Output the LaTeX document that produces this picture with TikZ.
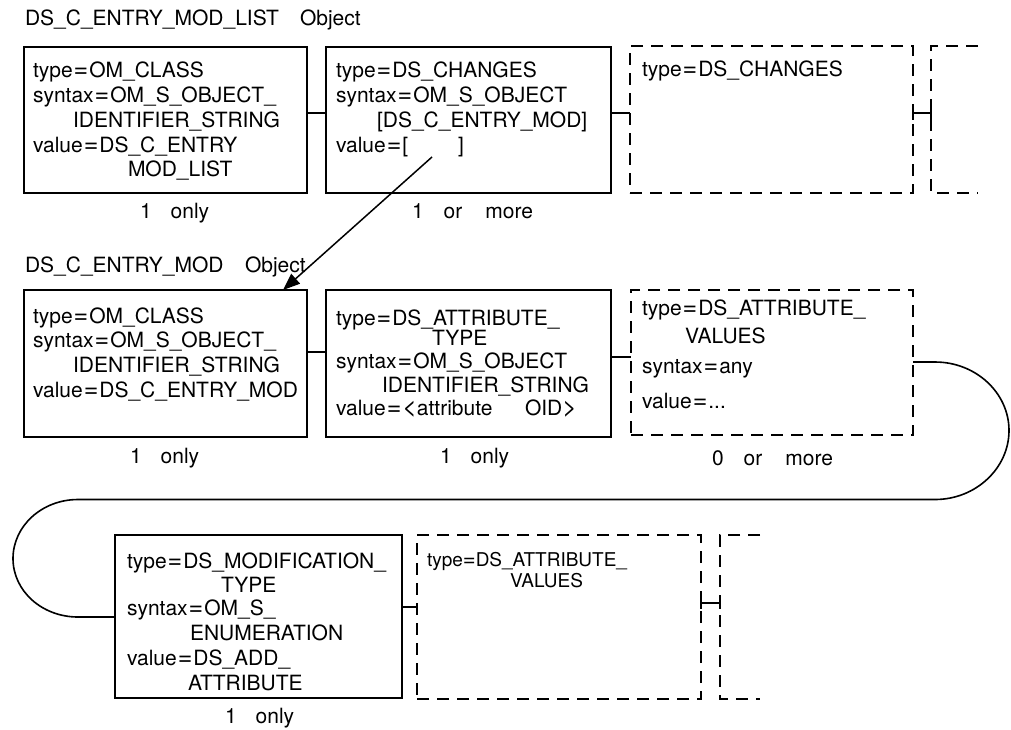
\documentclass[tikz,border=0pt]{standalone}
\usepackage{fontspec}
\setmainfont{TeX Gyre Heros}
\usetikzlibrary{arrows.meta}
\newcommand\eqsign{\kern1pt{\fontsize{25}{24}\selectfont=}\kern1pt}
\newcommand\ltsign{{\fontsize{25}{24}\selectfont<}}
\newcommand\gtsign{{\fontsize{25}{24}\selectfont>}}
\begin{document}
\begin{tikzpicture}[x=1pt,y=-1pt,
 t/.style={anchor=base west, inner sep=0pt, outer sep=0pt, font=\fontsize{21}{24}\selectfont},
 ts/.style={anchor=base west, inner sep=0pt, outer sep=0pt, font=\fontsize{19}{22}\selectfont},
 solidbox/.style={draw, line width=1.8pt, inner sep=0pt, outer sep=0pt},
 dashbox/.style={draw, line width=1.8pt, dash pattern=on 12pt off 8pt, inner sep=0pt, outer sep=0pt},
 dashline/.style={line width=1.8pt, dash pattern=on 12pt off 8pt},
 conn/.style={line width=1.6pt},
 arr/.style={line width=1.5pt, -{Triangle[length=17pt,width=13pt]}}]
\useasboundingbox (0,0) rectangle (1011,729);

% ---------- Row 1 ----------
\node[t] (title1) at (25,25) {DS\_C\_ENTRY\_MOD\_LIST};
\node[t] (title1o) at (300,25) {Object};

\node[solidbox, minimum width=283pt, minimum height=146pt] (A) at (165.5,120) {};
\node[solidbox, minimum width=285pt, minimum height=146pt] (B) at (468.5,120) {};
\node[dashbox, minimum width=283pt, minimum height=147pt] (C) at (771.5,119.5) {};
\coordinate (Cx) at (931,113);
\draw[dashline] (978,46) -- (931,46) -- (931,193) -- (978,193);

\node[t] (a1) at (33,77) {type\eqsign OM\_CLASS};
\node[t] (a2) at (33,102) {syntax\eqsign OM\_S\_OBJECT\_};
\node[t] (a3) at (73,127) {IDENTIFIER\_STRING};
\node[t] (a4) at (33,152) {value\eqsign DS\_C\_ENTRY};
\node[t] (a5) at (128,176) {MOD\_LIST};
\node[t] (aq) at (140,218) {1\hspace{19pt}only};

\node[t] (b1) at (336,77) {type\eqsign DS\_CHANGES};
\node[t] (b2) at (336,102) {syntax\eqsign OM\_S\_OBJECT};
\node[t] (b3) at (377,127) {[DS\_C\_ENTRY\_MOD]};
\node[t] (b4) at (336,152) {value\eqsign [};
\node[t] (b5) at (458,152) {]};
\node[t] (bq) at (412,218) {1\hspace{20pt}or\hspace{23pt}more};

\node[t] (c1) at (642,76) {type\eqsign DS\_CHANGES};

\draw[conn] (A.east |- 0,113) -- (B.west |- 0,113);
\draw[conn] (B.east |- 0,113) -- (C.west |- 0,113);
\draw[conn] (C.east |- 0,113) -- (Cx);
\draw[conn] (913,106) -- (913,120);
\draw[conn] (931,106) -- (931,120);

% ---------- Row 2 ----------
\node[t] (title2) at (25,272) {DS\_C\_ENTRY\_MOD};
\node[t] (title2o) at (245,272) {Object};

\node[solidbox, minimum width=283pt, minimum height=147pt] (D) at (165.5,363.5) {};
\node[solidbox, minimum width=285pt, minimum height=147pt] (E) at (468.5,363.5) {};
\node[dashbox, minimum width=282pt, minimum height=145pt] (F) at (772,362.5) {};

\node[t] (d1) at (33,323) {type\eqsign OM\_CLASS};
\node[t] (d2) at (33,347) {syntax\eqsign OM\_S\_OBJECT\_};
\node[t] (d3) at (73,372) {IDENTIFIER\_STRING};
\node[t] (d4) at (33,397) {value\eqsign DS\_C\_ENTRY\_MOD};
\node[t] (dq) at (130,463) {1\hspace{19pt}only};

\node[t] (e1) at (336,325) {type\eqsign DS\_ATTRIBUTE\_};
\node[t] (e2) at (432,345) {TYPE};
\node[t] (e3) at (336,368) {syntax\eqsign OM\_S\_OBJECT};
\node[t] (e4) at (382,392) {IDENTIFIER\_STRING};
\node[t] (e5) at (336,415) {value\eqsign\ltsign attribute};
\node[t] (e6) at (525,415) {OID\gtsign};
\node[t] (eq) at (440,463) {1\hspace{19pt}only};

\node[t] (f1) at (642,315) {type\eqsign DS\_ATTRIBUTE\_};
\node[t] (f2) at (685,343) {VALUES};
\node[t] (f3) at (642,373) {syntax\eqsign any};
\node[t] (f4) at (642,408) {value\eqsign ...};
\node[t] (fq) at (712,465) {0\hspace{20pt}or\hspace{23pt}more};

\draw[conn] (D.east |- 0,352) -- (E.west |- 0,352);
\draw[conn] (E.east |- 0,357) -- (F.west |- 0,357);

% arrow from B's value to D
\coordinate (Bv) at (432,157);
\coordinate (Dt) at (283,290);
\draw[arr] (Bv) -- (Dt);

% ---------- Row 3 ----------
\node[solidbox, minimum width=287pt, minimum height=163pt] (G) at (258.5,616.5) {};
\node[dashbox, minimum width=284pt, minimum height=164pt] (H) at (559,617) {};
\coordinate (Ix) at (720,603);
\draw[dashline] (760,535) -- (720,535) -- (720,699) -- (760,699);

\node[t] (g1) at (127,568) {type\eqsign DS\_MODIFICATION\_};
\node[t] (g2) at (221,592) {TYPE};
\node[t] (g3) at (127,615) {syntax\eqsign OM\_S\_};
\node[t] (g4) at (190,640) {ENUMERATION};
\node[t] (g5) at (127,665) {value\eqsign DS\_ADD\_};
\node[t] (g6) at (188,690) {ATTRIBUTE};
\node[t] (gq) at (225,723) {1\hspace{19pt}only};

\node[ts] (h1) at (427,566) {type{\fontsize{22}{22}\selectfont=}DS\_ATTRIBUTE\_};
\node[ts] (h2) at (510,587) {VALUES};

\draw[conn] (G.east |- 0,607) -- (H.west |- 0,607);
\draw[conn] (H.east |- 0,603) -- (Ix);
\draw[conn] (701,597) -- (701,609);
\draw[conn] (720,597) -- (720,609);

% loop connector from F to G
\draw[conn] (F.east |- 0,362) -- (935,362)
  .. controls (976,362) and (1009,393) .. (1009,430.5)
  .. controls (1009,468) and (976,499.5) .. (935,499.5)
  -- (78,499.5)
  .. controls (42,499.5) and (13,526) .. (13,558.5)
  .. controls (13,591) and (42,617) .. (78,617)
  -- (G.west |- 0,617);
\end{tikzpicture}
\end{document}
